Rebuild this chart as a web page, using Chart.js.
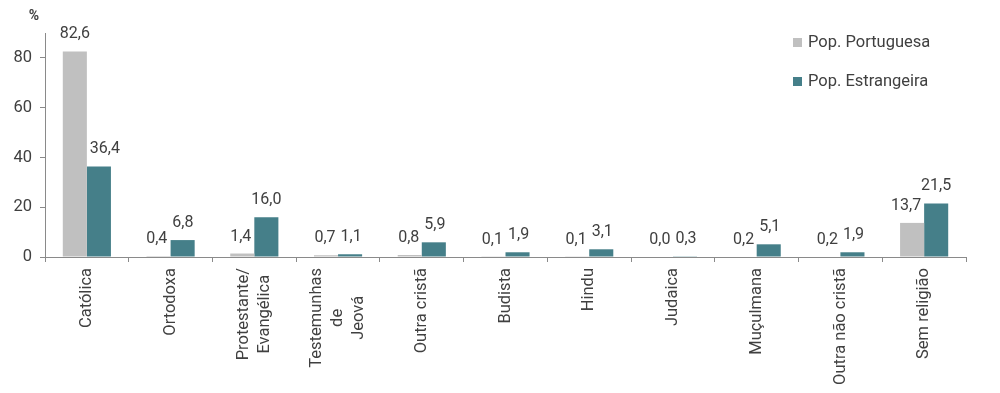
<!DOCTYPE html>
<html lang="pt">
<head>
    <meta charset="UTF-8">
    <title>Religião - População Portuguesa e Estrangeira</title>
    <script src="https://cdn.jsdelivr.net/npm/chart.js"></script>
    <style>
        body {
            margin: 0;
            background: #ffffff;
        }
        .container {
            position: relative;
            width: 1000px;
            height: 393px;
        }
    </style>
</head>
<body>
    <div class="container">
        <canvas id="grafico"></canvas>
    </div>
    <script>
    // dados
    const categorias = [
        ["Católica"],
        ["Ortodoxa"],
        ["Protestante/", "Evangélica"],
        ["Testemunhas", "de", "Jeová"],
        ["Outra cristã"],
        ["Budista"],
        ["Hindu"],
        ["Judaica"],
        ["Muçulmana"],
        ["Outra não cristã"],
        ["Sem religião"]
    ];
    const popPortuguesa = [82.6, 0.4, 1.4, 0.7, 0.8, 0.1, 0.1, 0.0, 0.2, 0.2, 13.7];
    const popEstrangeira = [36.4, 6.8, 16.0, 1.1, 5.9, 1.9, 3.1, 0.3, 5.1, 1.9, 21.5];
    const serieNomes = ["Pop. Portuguesa", "Pop. Estrangeira"];
    const yTicks = [0, 20, 40, 60, 80];

    const corTexto = "#404040";
    const corEixo = "#8a8a8a";
    const fonte = "Roboto, 'Noto Sans', sans-serif";
    const tam = 16.5;

    // etiquetas de valor, eixo x, legenda e titulo do eixo y
    const extras = {
        id: "extras",
        afterDraw(chart) {
            const ctx = chart.ctx;
            const area = chart.chartArea;
            const xs = chart.scales.x;
            ctx.save();

            // valores por cima das barras
            ctx.font = "16px " + fonte;
            ctx.fillStyle = corTexto;
            ctx.textAlign = "center";
            ctx.textBaseline = "alphabetic";
            const metas = [chart.getDatasetMeta(0), chart.getDatasetMeta(1)];
            const sets = chart.data.datasets;
            for (let j = 0; j < categorias.length; j++) {
                let etq = [0, 1].map(i => {
                    let bar = metas[i].data[j];
                    let txt = sets[i].data[j].toFixed(1).replace(".", ",");
                    let w = ctx.measureText(txt).width;
                    let x = bar.x;
                    let y = bar.y - 13;
                    // afastar a etiqueta da barra vizinha quando esta e mais alta
                    let outra = metas[1 - i].data[j];
                    if (outra.y < y) {
                        let half = outra.width / 2;
                        if (i === 1 && x - w / 2 < outra.x + half + 3) {
                            x = outra.x + half + 3 + w / 2;
                        }
                        if (i === 0 && x + w / 2 > outra.x - half - 3) {
                            x = outra.x - half - 3 - w / 2;
                        }
                    }
                    return { txt, w, x, y };
                });
                // separar etiquetas que se tocam
                let a = etq[0], b = etq[1];
                if (Math.abs(a.y - b.y) < 16) {
                    let gap = (b.x - b.w / 2) - (a.x + a.w / 2);
                    if (gap < 5) {
                        a.x -= (5 - gap) / 2;
                        b.x += (5 - gap) / 2;
                    }
                }
                etq.forEach(e => ctx.fillText(e.txt, e.x, e.y));
            }

            // etiquetas das categorias (rodadas)
            ctx.font = tam + "px " + fonte;
            const lh = 21;
            categorias.forEach((linhas, j) => {
                let cx = xs.getPixelForValue(j);
                let maxW = Math.max(...linhas.map(l => ctx.measureText(l).width));
                let top = area.bottom + 11;
                linhas.forEach((l, k) => {
                    ctx.save();
                    ctx.translate(cx + (k - (linhas.length - 1) / 2) * lh, top + maxW / 2);
                    ctx.rotate(-Math.PI / 2);
                    ctx.textAlign = "center";
                    ctx.textBaseline = "middle";
                    ctx.fillText(l, 0, 0);
                    ctx.restore();
                });
            });

            // legenda
            sets.forEach((ds, i) => {
                let y = 42.5 + i * 39;
                ctx.fillStyle = ds.backgroundColor;
                ctx.fillRect(793, y - 4.5, 9, 9);
                ctx.fillStyle = corTexto;
                ctx.textAlign = "left";
                ctx.textBaseline = "middle";
                ctx.fillText(ds.label, 808, y);
            });

            // %
            ctx.font = "bold 14px " + fonte;
            ctx.textAlign = "center";
            ctx.fillText("%", 34, 16);
            ctx.restore();
        }
    };

    new Chart(document.getElementById("grafico"), {
        type: "bar",
        data: {
            labels: categorias,
            datasets: [{
                label: serieNomes[0],
                data: popPortuguesa,
                backgroundColor: "#c0c0c0"
            }, {
                label: serieNomes[1],
                data: popEstrangeira,
                backgroundColor: "#457f89"
            }]
        },
        options: {
            responsive: true,
            maintainAspectRatio: false,
            animation: false,
            categoryPercentage: 0.575,
            barPercentage: 1.0,
            layout: {
                padding: { top: 33, right: 34, left: 0, bottom: 0 }
            },
            plugins: {
                legend: { display: false },
                tooltip: { enabled: false }
            },
            scales: {
                x: {
                    grid: {
                        display: true,
                        drawOnChartArea: false,
                        drawTicks: true,
                        tickLength: 5,
                        color: corEixo
                    },
                    border: { color: corEixo },
                    ticks: { display: false },
                    afterFit(s) { s.height = 136; }
                },
                y: {
                    min: 0,
                    max: 90,
                    afterBuildTicks(s) {
                        s.ticks = yTicks.map(v => ({ value: v }));
                    },
                    grid: {
                        display: true,
                        drawOnChartArea: false,
                        drawTicks: true,
                        tickLength: 5,
                        color: corEixo
                    },
                    border: { color: corEixo },
                    ticks: {
                        padding: 8,
                        color: corTexto,
                        font: { family: fonte, size: tam }
                    },
                    afterFit(s) { s.width = 45; }
                }
            }
        },
        plugins: [extras]
    });
    </script>
</body>
</html>
